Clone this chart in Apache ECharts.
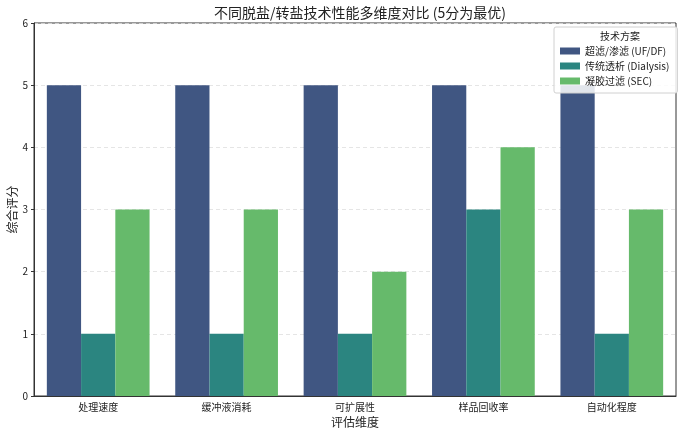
<!DOCTYPE html>
<html>
<head>
<meta charset="utf-8">
<script src="https://cdn.jsdelivr.net/npm/echarts@6/dist/echarts.min.js"></script>
<style>
html,body{margin:0;padding:0;background:#fff;}
#main{width:683px;height:435px;}
</style>
</head>
<body>
<div id="main"></div>
<script>
// 数据
var categories = ['处理速度', '缓冲液消耗', '可扩展性', '样品回收率', '自动化程度'];
var seriesNames = ['超滤/渗滤 (UF/DF)', '传统透析 (Dialysis)', '凝胶过滤 (SEC)'];
var ufdf = [5, 5, 5, 5, 5];
var dialysis = [1, 1, 1, 3, 1];
var sec = [3, 3, 2, 4, 3];
var yTicks = [0, 1, 2, 3, 4, 5, 6];

var font = '"Noto Sans CJK SC", "Noto Sans", sans-serif';
var colors = ['#405682', '#2b8580', '#66ba6b'];

var chart = echarts.init(document.getElementById('main'));
var option = {
	color: colors,
	animation: false,
	textStyle: { fontFamily: font },
	title: [{
		text: '不同脱盐/转盐技术性能多维度对比 (5分为最优)',
		left: 355, top: 1, textAlign: 'center',
		textStyle: { fontFamily: font, fontSize: 14, fontWeight: 'normal', color: '#222' }
	}, {
		text: '技术方案',
		left: 615, top: 26, textAlign: 'center',
		textStyle: { fontFamily: font, fontSize: 10, fontWeight: 'normal', color: '#222' }
	}],
	legend: {
		data: seriesNames,
		orient: 'vertical',
		left: 554, top: 27,
		width: 122,
		padding: [18, 8, 6, 6],
		itemWidth: 20, itemHeight: 7,
		itemGap: 3,
		backgroundColor: 'rgba(255,255,255,0.85)',
		borderColor: '#d0d0d0', borderWidth: 1, borderRadius: 2,
		textStyle: { fontFamily: font, fontSize: 10, color: '#222', lineHeight: 12 },
		icon: 'rect'
	},
	grid: {
		left: 34, right: 7, top: 23, bottom: 39,
		outerBoundsMode: 'none',
		containLabel: false,
		show: true, borderColor: '#333', borderWidth: 1
	},
	xAxis: {
		type: 'category',
		data: categories,
		name: '评估维度',
		nameLocation: 'middle',
		nameGap: 20,
		nameTextStyle: { fontFamily: font, fontSize: 12, color: '#222' },
		axisLine: { lineStyle: { color: '#333' } },
		axisTick: { alignWithLabel: true, length: 3, lineStyle: { color: '#333' } },
		axisLabel: { fontFamily: font, fontSize: 10, color: '#222', margin: 6 },
		splitLine: { show: false }
	},
	yAxis: {
		type: 'value',
		min: yTicks[0], max: yTicks[yTicks.length - 1], interval: 1,
		name: '综合评分',
		nameLocation: 'middle',
		nameGap: 16,
		nameMoveOverlap: false,
		nameTextStyle: { fontFamily: font, fontSize: 12, color: '#222' },
		axisLine: { show: true, lineStyle: { color: '#333' } },
		axisTick: { show: true, length: 3, lineStyle: { color: '#333' } },
		axisLabel: { fontFamily: font, fontSize: 10, color: '#222', margin: 6 },
		splitLine: { show: true, lineStyle: { color: '#dedede', type: [4, 3], width: 0.8 } }
	},
	series: [{
		name: seriesNames[0], type: 'bar', data: ufdf,
		barGap: '0%', barCategoryGap: '20%'
	}, {
		name: seriesNames[1], type: 'bar', data: dialysis,
		barGap: '0%', barCategoryGap: '20%'
	}, {
		name: seriesNames[2], type: 'bar', data: sec,
		barGap: '0%', barCategoryGap: '20%'
	}]
};
chart.setOption(option);
</script>
</body>
</html>
